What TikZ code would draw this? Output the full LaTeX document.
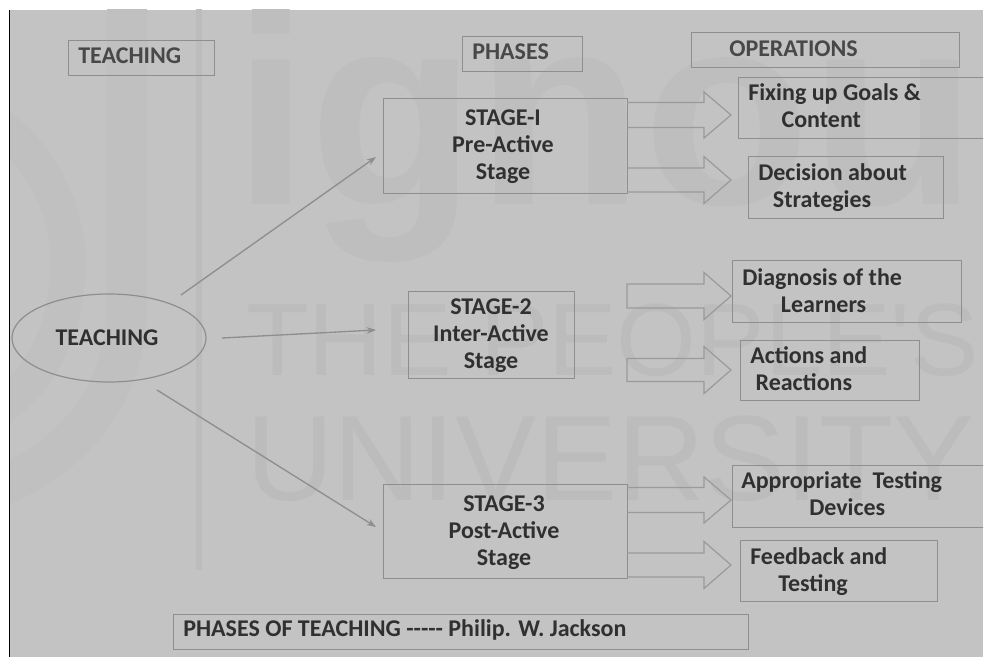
\documentclass[tikz,border=0pt]{standalone}
\usepackage{fontspec}
\setmainfont{Carlito}
\newfontfamily\wmfont{Liberation Sans}
\usetikzlibrary{calc,arrows.meta,shapes.geometric}
\definecolor{bgc}{HTML}{C3C3C3}
\definecolor{wm}{HTML}{BCBCBC}
\definecolor{ln}{HTML}{8E8E8E}
\definecolor{arr}{HTML}{9A9A9A}
\definecolor{txt}{HTML}{303030}
\definecolor{txth}{HTML}{484848}
\tikzset{
  x=0.75pt,y=-0.75pt,
  sz/.style 2 args={minimum width=#1*0.75pt,minimum height=#2*0.75pt},
  boxn/.style={draw=ln,line width=0.9pt,rectangle,inner sep=0pt,anchor=north west},
  lab/.style={text=txt,font=\fontsize{18}{20.2}\selectfont\bfseries,align=left,anchor=north west,inner sep=0pt},
  clab/.style={text=txt,font=\fontsize{18}{20.2}\selectfont\bfseries,align=center,anchor=center,inner sep=0pt},
  thin arrow/.style={draw=ln,line width=1pt,-{Stealth[length=7pt,width=5pt]}},
  blockarrow/.style={draw=arr,line width=0.9pt,line join=miter},
  wmark/.style={text=wm,inner sep=0pt,anchor=base west}
}
\newcommand{\blockopen}[4]{%
  \draw[blockarrow] (#1,#2-#3) -- (704,#2-#3) -- (704,#2-#4) -- (731,#2) -- (704,#2+#4) -- (704,#2+#3) -- (#1,#2+#3);}
\newcommand{\blockclosed}[4]{%
  \draw[blockarrow] (#1,#2-#3) -- (704,#2-#3) -- (704,#2-#4) -- (731,#2) -- (704,#2+#4) -- (704,#2+#3) -- (#1,#2+#3) -- cycle;}
\begin{document}
\begin{tikzpicture}
\useasboundingbox (0,0) rectangle (985,659);
\fill[white] (0,0) rectangle (985,659);
\fill[bgc] (10,10) rectangle (983,657);
\draw[black,line width=0.9pt] (9.5,10) -- (9.5,657);
\begin{scope}
\clip (10,10) rectangle (983,657);
% watermark
\draw[wm,line width=4pt] (199,0) -- (199,570);
\draw[wm!45!bgc,line width=30pt] (127,0) -- (127,300) .. controls (127,400) and (70,460) .. (-10,490);
\draw[wm!45!bgc,line width=26pt] (-10,120) .. controls (40,150) and (68,210) .. (68,262) .. controls (68,330) and (40,385) .. (-10,415);
\node[wmark,text=wm!65!bgc,font=\wmfont\bfseries\fontsize{205}{205}\selectfont] (wmA) at (233,205) {ignou};
\node[wmark,font=\wmfont\fontsize{77}{77}\selectfont] (wmB) at (246,375) {THE PEOPLE'S};
\node[wmark,font=\wmfont\fontsize{91}{91}\selectfont] (wmC) at (246,500) {UNIVERSITY};
% boxes
\node[boxn,sz={146}{35}] (h1) at (68,40) {};
\node[boxn,sz={120}{35}] (h2) at (462,36) {};
\node[boxn,sz={268}{35}] (h3) at (691,32) {};
\node[boxn,sz={260}{61}] (op1) at (738,77) {};
\node[boxn,sz={195}{62}] (op2) at (748,156) {};
\node[boxn,sz={229}{62}] (op3) at (732,260) {};
\node[boxn,sz={179}{60}] (op4) at (740,340) {};
\node[boxn,sz={260}{62}] (op5) at (732,465) {};
\node[boxn,sz={197}{61}] (op6) at (740,540) {};
\node[boxn,sz={244}{95}] (s1) at (383,98) {};
\node[boxn,sz={166}{87}] (s2) at (408,291) {};
\node[boxn,sz={244}{94}] (s3) at (383,484) {};
\node[boxn,sz={575}{35}] (foot) at (173,614) {};
\node[draw=ln,line width=0.9pt,ellipse,sz={194}{88},inner sep=0pt] (teach) at (109,338) {};
% block arrows
\blockopen{627}{115}{12.5}{23}
\blockopen{627}{180}{12}{23.5}
\blockclosed{627}{296}{12}{23.5}
\blockclosed{627}{370}{11.5}{23.5}
\blockopen{627}{500}{12.5}{23}
\blockopen{627}{565}{12}{23.5}
% thin connectors
\coordinate (e1) at (181,295); \coordinate (t1) at (376,157);
\coordinate (e2) at (222,338); \coordinate (t2) at (376,330);
\coordinate (e3) at (157,390); \coordinate (t3) at (376,527);
\draw[thin arrow] (e1) -- (t1);
\draw[thin arrow] (e2) -- (t2);
\draw[thin arrow] (e3) -- (t3);
% labels
\node[clab] (lt) at (107,338) {TEACHING};
\node[lab,text=txth] (l1) at (78,47) {TEACHING};
\node[lab,text=txth] (l2) at (472,43) {PHASES};
\node[lab,text=txth] (l3) at (729,40) {OPERATIONS};
\node[clab] (ls1) at (503,147) {STAGE-I\\Pre-Active\\Stage};
\node[clab] (ls2) at (491,336) {STAGE-2\\Inter-Active\\Stage};
\node[clab] (ls3) at (504,533) {STAGE-3\\Post-Active\\Stage};
\node[lab] (lo1) at (748,83) {Fixing up Goals \&\\\hspace*{25pt}Content};
\node[lab] (lo2) at (758,163) {Decision about\\\hspace*{11pt}Strategies};
\node[lab] (lo3) at (742,268) {Diagnosis of the\\\hspace*{29pt}Learners};
\node[lab] (lo4) at (750,346) {Actions and\\\hspace*{4pt}Reactions};
\node[lab] (lo5) at (741,471) {Appropriate\hspace{4pt} Testing\\\hspace*{51pt}Devices};
\node[lab] (lo6) at (750,547) {Feedback and\\\hspace*{21pt}Testing};
\node[lab,anchor=west] (lf) at (183,630) {PHASES OF TEACHING -{}-{}-{}-{}- Philip. W. Jackson};
\end{scope}
\end{tikzpicture}
\end{document}
